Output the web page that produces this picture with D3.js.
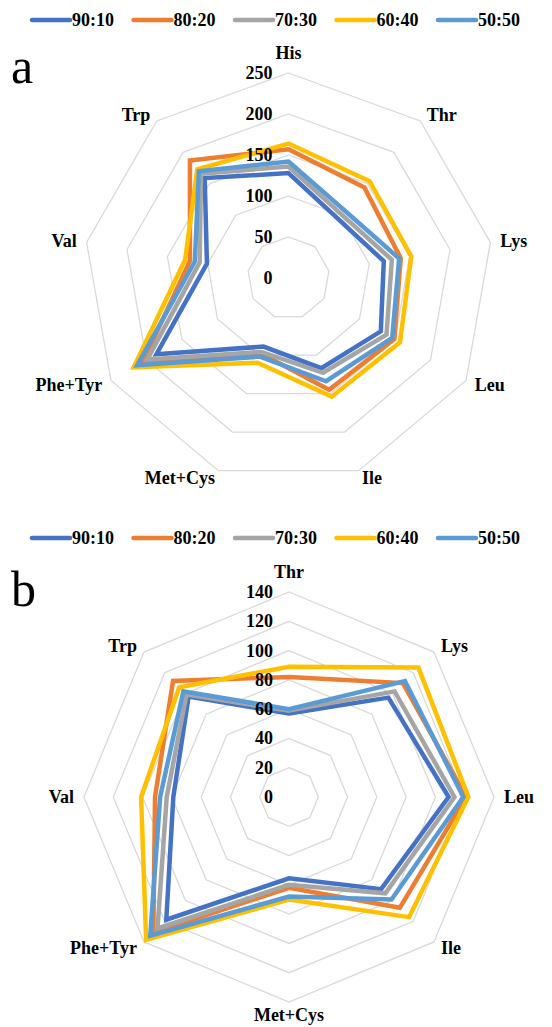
<!DOCTYPE html>
<html>
<head>
<meta charset="utf-8">
<script src="https://cdn.jsdelivr.net/npm/d3@7.9.0/dist/d3.min.js"></script>
<style>
  body { margin: 0; background: #fff; }
</style>
</head>
<body>
<svg id="chart" width="552" height="1027" font-family="'Liberation Serif', 'Times New Roman', 'DejaVu Serif', serif"></svg>
<script>
// series shared by both panels
const seriesNames = ['90:10', '80:20', '70:30', '60:40', '50:50'];
const seriesColors = ['#4472C4', '#ED7D31', '#A5A5A5', '#FFC000', '#5B9BD5'];

// panel a
const axesA = ['His', 'Thr', 'Lys', 'Leu', 'Ile', 'Met+Cys', 'Phe+Tyr', 'Val', 'Trp'];
const ticksA = [0, 50, 100, 150, 200, 250];
const a9010 = [128, 94, 118, 130, 117, 89, 186, 101, 159];
const a8020 = [157, 144, 139, 149, 145, 98, 205, 122, 187];
const a7030 = [136, 101, 128, 138, 123, 96, 199, 110, 166];
const a6040 = [164, 154, 152, 157, 154, 110, 218, 128, 173];
const a5050 = [142, 107, 137, 146, 134, 102, 213, 116, 170];

// panel b
const axesB = ['Thr', 'Lys', 'Leu', 'Ile', 'Met+Cys', 'Phe+Tyr', 'Val', 'Trp'];
const ticksB = [0, 20, 40, 60, 80, 100, 120, 140];
const b9010 = [57, 96, 109, 89, 55.5, 118.5, 79, 97];
const b8020 = [82, 110, 121, 107, 62, 131, 91.5, 112];
const b7030 = [59, 102, 113, 93, 60, 127, 83.5, 99];
const b6040 = [89, 125, 122.5, 116, 70, 138, 101, 106];
const b5050 = [60, 112, 119, 99, 68, 134, 88, 102];

const svg = d3.select('#chart');
svg.append('rect').attr('width', 552).attr('height', 1027).attr('fill', '#fff');

const R = 205;

function drawLegend(y) {
  const g = svg.append('g');
  seriesNames.forEach((name, i) => {
    const x0 = 32 + i * 101.5;
    g.append('line')
      .attr('x1', x0).attr('x2', x0 + 38)
      .attr('y1', y).attr('y2', y)
      .attr('stroke', seriesColors[i])
      .attr('stroke-width', 4.5)
      .attr('stroke-linecap', 'round');
    g.append('text')
      .attr('x', x0 + 40).attr('y', y)
      .attr('dominant-baseline', 'central')
      .attr('font-size', 18).attr('font-weight', 'bold')
      .attr('fill', '#000')
      .text(name);
  });
}

function drawRadar(cx, cy, axes, ticks, series, letter, letterY) {
  const n = axes.length;
  const r = d3.scaleLinear().domain([0, d3.max(ticks)]).range([0, R]);
  const ang = i => i * 2 * Math.PI / n;
  const g = svg.append('g').attr('transform', `translate(${cx},${cy})`);

  const ring = d3.lineRadial()
    .angle((d, i) => ang(i))
    .radius(d => r(d))
    .curve(d3.curveLinearClosed);

  // grid rings
  ticks.filter(t => t > 0).forEach(t => {
    g.append('path')
      .attr('d', ring(axes.map(() => t)))
      .attr('fill', 'none')
      .attr('stroke', '#D9D9D9')
      .attr('stroke-width', 1.3);
  });

  // series
  series.forEach((vals, i) => {
    g.append('path')
      .attr('d', ring(vals))
      .attr('fill', 'none')
      .attr('stroke', seriesColors[i])
      .attr('stroke-width', 4.5)
      .attr('stroke-linejoin', 'miter');
  });

  // tick labels
  ticks.forEach(t => {
    g.append('text')
      .attr('x', -16).attr('y', -r(t))
      .attr('text-anchor', 'end')
      .attr('dominant-baseline', 'central')
      .attr('font-size', 18).attr('font-weight', 'bold')
      .text(t);
  });

  // axis labels
  axes.forEach((name, i) => {
    const a = ang(i);
    const s = Math.sin(a), c = Math.cos(a);
    const vx = R * s, vy = -R * c;
    let anchor = 'middle';
    if (s > 0.05) anchor = 'start';
    if (s < -0.05) anchor = 'end';
    let dy = -c * 8;
    if (Math.abs(s) <= 0.05) dy = c > 0 ? -20 : 13;
    g.append('text')
      .attr('x', vx + s * 10)
      .attr('y', vy + dy)
      .attr('text-anchor', anchor)
      .attr('dominant-baseline', 'central')
      .attr('font-size', 18).attr('font-weight', 'bold')
      .text(name);
  });

  svg.append('text')
    .attr('x', 11).attr('y', letterY)
    .attr('font-size', 50)
    .text(letter);
}

drawLegend(20);
drawRadar(288.5, 278, axesA, ticksA, [a9010, a8020, a7030, a6040, a5050], 'a', 83);
drawLegend(538);
drawRadar(289, 797, axesB, ticksB, [b9010, b8020, b7030, b6040, b5050], 'b', 606);
</script>
</body>
</html>
